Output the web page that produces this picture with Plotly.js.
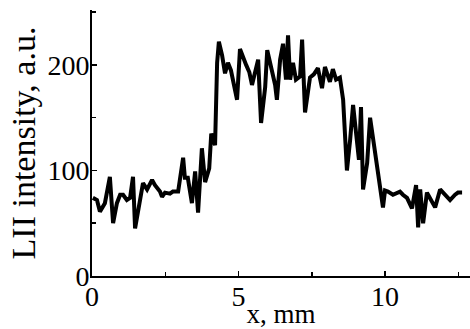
<!DOCTYPE html>
<html>
<head>
<meta charset="utf-8">
<script src="https://cdn.plot.ly/plotly-3.0.1.min.js"></script>
<style>html,body{margin:0;padding:0;background:#fff;}#chart{width:470px;height:329px;}</style>
</head>
<body>
<div id="chart"></div>
<script>
// x positions in mm, LII intensity in a.u.
const xMm = [0.03,0.17,0.27,0.44,0.61,0.72,0.85,0.96,1.06,1.19,1.30,1.40,1.47,1.57,1.74,1.88,2.05,2.15,2.32,2.39,2.49,2.66,2.76,2.94,3.11,3.17,3.27,3.41,3.52,3.62,3.75,3.86,4.00,4.07,4.20,4.27,4.33,4.44,4.54,4.64,4.74,4.95,5.05,5.26,5.37,5.46,5.63,5.67,5.77,5.91,5.98,6.25,6.31,6.42,6.52,6.62,6.69,6.76,6.86,6.96,7.10,7.17,7.27,7.44,7.57,7.71,7.85,7.95,8.12,8.22,8.33,8.46,8.57,8.70,8.81,8.91,9.11,9.18,9.25,9.39,9.49,9.73,9.83,9.93,10.00,10.10,10.27,10.51,10.61,10.75,10.92,11.06,11.13,11.20,11.30,11.43,11.47,11.71,11.88,12.05,12.22,12.39,12.49,12.63];
const lii = [74,72,61,69,94,50,69,77,77,72,74,94,45,63,88,82,91,86,80,75,79,78,80,80,112,93,93,69,99,60,121,89,102,135,124,202,222,209,192,202,195,167,215,200,193,181,200,205,145,179,214,181,167,205,220,186,228,186,202,186,189,224,155,188,191,197,178,198,184,196,186,188,167,100,129,162,110,160,82,107,150,103,88,65,81,80,77,80,77,74,64,86,46,82,50,79,77,65,82,77,72,77,79,79];
const xTickVals = [0, 5, 10];
const xTickText = ['0', '5', '10'];
const yTickVals = [0, 100, 200];
const yTickText = ['0', '100', '200'];
const xTitle = 'x, mm';
const yTitle = 'LII intensity, a.u.';

const serif = 'Liberation Serif';

Plotly.newPlot('chart', [{
  x: xMm, y: lii, type: 'scatter', mode: 'lines',
  line: {color: '#000', width: 4},
  hoverinfo: 'skip'
}], {
  width: 470, height: 329,
  margin: {l: 92, r: 0, t: 10, b: 53},
  paper_bgcolor: '#fff', plot_bgcolor: '#fff',
  font: {family: serif, size: 28, color: '#000'},
  showlegend: false,
  xaxis: {
    range: [0, 12.9], showgrid: false, zeroline: false,
    showline: true, linecolor: '#000', linewidth: 2,
    ticks: 'inside', ticklen: 5, tickwidth: 1.5, tickcolor: '#000',
    tickvals: xTickVals, ticktext: xTickText,
    minor: {tickvals: [2.5, 7.5, 12.5], ticks: 'inside', ticklen: 4, tickcolor: '#000', tickwidth: 1.5},
    tickfont: {family: serif, size: 28, color: '#000'}, ticklabelstandoff: -6,
    title: {text: xTitle, font: {family: serif, size: 27, color: '#000'}, standoff: 0}
  },
  yaxis: {
    range: [0, 252], showgrid: false, zeroline: false,
    showline: true, linecolor: '#000', linewidth: 2,
    ticks: 'inside', ticklen: 5, tickwidth: 1.5, tickcolor: '#000',
    tickvals: yTickVals, ticktext: yTickText,
    minor: {tickvals: [50, 150, 250], ticks: 'inside', ticklen: 4, tickcolor: '#000', tickwidth: 1.5},
    tickfont: {family: serif, size: 28, color: '#000'}, ticklabelstandoff: -5,
    title: {text: yTitle, font: {family: serif, size: 34, color: '#000'}, standoff: 2}
  }
}, {staticPlot: true, displayModeBar: false});
</script>
</body>
</html>
